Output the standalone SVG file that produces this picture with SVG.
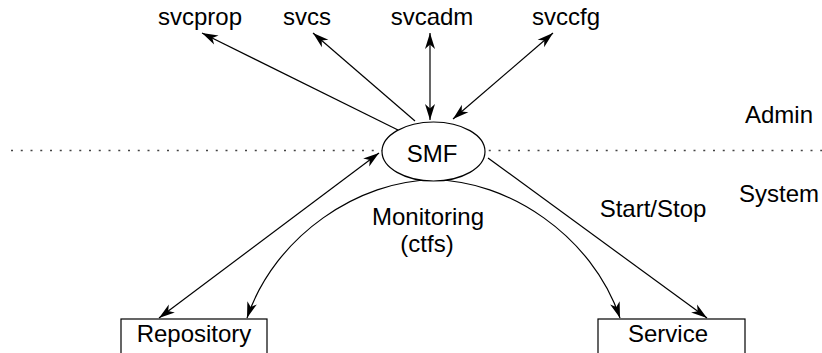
<svg xmlns="http://www.w3.org/2000/svg" width="822" height="353" viewBox="0 0 822 353">
  <style>
    .lbl { font-family: "Liberation Sans", Arial, sans-serif; font-size: 24px; fill: #000; text-anchor: middle; }
    .edge { fill: none; stroke: #000; stroke-width: 1.2; }
    .box { fill: #fff; stroke: #000; stroke-width: 1.2; }
    .sep { stroke: #444; stroke-width: 1.3; stroke-dasharray: 2 7.75; }
  </style>
  <defs>
    <marker id="head" viewBox="-17 -6 18 12" refX="0" refY="0" markerWidth="18" markerHeight="12" markerUnits="userSpaceOnUse" orient="auto-start-reverse">
      <path d="M0,0 L-16,-5 L-11.5,0 L-16,5 Z" fill="#000"/>
    </marker>
  </defs>

  <rect width="822" height="353" fill="#fff"/>

  <!-- Admin / System boundary -->
  <line class="sep" x1="11" y1="150.5" x2="822" y2="150.5"/>
  <text class="lbl" x="779" y="123">Admin</text>
  <text class="lbl" x="779" y="201.5">System</text>

  <g id="connectors">
    <line class="edge" x1="398" y1="130" x2="202" y2="33" marker-end="url(#head)"/>
    <line class="edge" x1="415" y1="121" x2="313" y2="33" marker-end="url(#head)"/>
    <line class="edge" x1="430" y1="33" x2="430" y2="120" marker-start="url(#head)" marker-end="url(#head)"/>
    <line class="edge" x1="553" y1="33" x2="453" y2="119" marker-start="url(#head)" marker-end="url(#head)"/>
    <line class="edge" x1="379" y1="153" x2="159" y2="318" marker-start="url(#head)" marker-end="url(#head)"/>
    <line class="edge" x1="488" y1="158" x2="707" y2="318" marker-end="url(#head)"/>
    <path class="edge" d="M247,318 C275,235 360,180 433.5,180 C507,180 592,235 620,318" marker-start="url(#head)" marker-end="url(#head)"/>
    <text class="lbl" x="428" y="225">Monitoring</text>
    <text class="lbl" x="427" y="252">(ctfs)</text>
    <text class="lbl" x="653" y="217">Start/Stop</text>
  </g>

  <g id="svcprop"><text class="lbl" x="200" y="25">svcprop</text></g>
  <g id="svcs"><text class="lbl" x="307" y="25">svcs</text></g>
  <g id="svcadm"><text class="lbl" x="432" y="25">svcadm</text></g>
  <g id="svccfg"><text class="lbl" x="566" y="25">svccfg</text></g>

  <g id="smf">
    <ellipse class="box" cx="433.5" cy="151.5" rx="51.5" ry="29.5"/>
    <text class="lbl" x="432" y="161.5">SMF</text>
  </g>

  <g id="repository">
    <rect class="box" x="121" y="319" width="146" height="50"/>
    <text class="lbl" x="194" y="342">Repository</text>
  </g>

  <g id="service">
    <rect class="box" x="598" y="319" width="147" height="50"/>
    <text class="lbl" x="668" y="342">Service</text>
  </g>
</svg>
